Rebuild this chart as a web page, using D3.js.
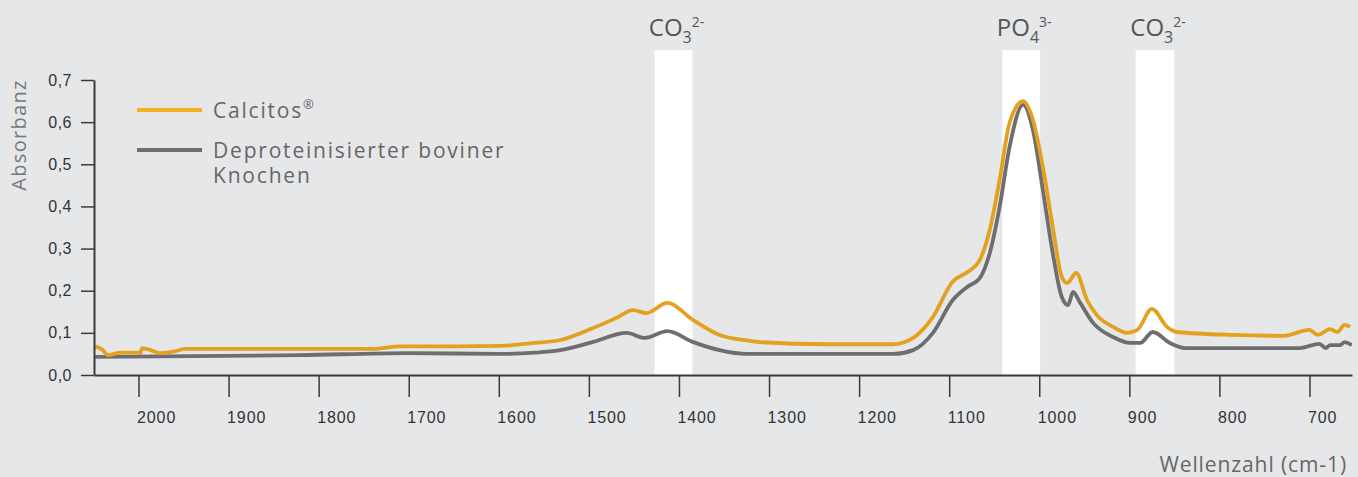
<!DOCTYPE html>
<html>
<head>
<meta charset="utf-8">
<script src="https://cdn.jsdelivr.net/npm/d3@7"></script>
<style>
  html, body { margin: 0; padding: 0; background: #e6e7e9; }
  svg { display: block; font-family: "Open Sans", "Noto Sans", sans-serif; }
</style>
</head>
<body>
<svg width="1358" height="477"></svg>
<script>
// Calcitos (wavenumber, absorbance)
const calcitos = [
  [2048, 0.068], [2040, 0.060], [2034, 0.047], [2020, 0.053], [2000, 0.053], [1998, 0.052],
  [1996, 0.064], [1985, 0.058], [1976, 0.052], [1960, 0.056], [1948, 0.062], [1900, 0.062],
  [1821, 0.062], [1740, 0.062], [1710, 0.068], [1650, 0.068], [1599, 0.069], [1560, 0.076],
  [1532, 0.083], [1496, 0.111], [1470, 0.135], [1451, 0.154], [1436, 0.147], [1413, 0.171],
  [1384, 0.130], [1355, 0.095], [1324, 0.082], [1310, 0.078], [1236, 0.073], [1162, 0.073],
  [1140, 0.088], [1118, 0.138], [1096, 0.222], [1080, 0.244], [1066, 0.273], [1055, 0.344],
  [1044, 0.463], [1033, 0.598], [1018, 0.650], [1007, 0.605], [996, 0.494], [985, 0.351],
  [975, 0.233], [969, 0.218], [959, 0.242], [947, 0.178], [936, 0.142], [918, 0.114],
  [903, 0.100], [891, 0.107], [875, 0.157], [858, 0.114], [847, 0.102], [785, 0.095],
  [729, 0.093], [700, 0.107], [691, 0.095], [677, 0.109], [669, 0.102], [661, 0.119], [655, 0.114]
];

// Deproteinisierter boviner Knochen
const bovine = [
  [2048, 0.043], [1821, 0.047], [1700, 0.052], [1599, 0.050], [1560, 0.053], [1532, 0.059],
  [1496, 0.078], [1458, 0.100], [1438, 0.088], [1413, 0.104], [1384, 0.078], [1355, 0.059],
  [1324, 0.050], [1162, 0.050], [1140, 0.059], [1118, 0.100], [1096, 0.178], [1080, 0.209],
  [1066, 0.230], [1055, 0.289], [1044, 0.399], [1033, 0.541], [1018, 0.641], [1007, 0.581],
  [996, 0.439], [985, 0.289], [975, 0.185], [968, 0.166], [962.5, 0.197], [955, 0.173],
  [940, 0.123], [918, 0.090], [899, 0.076], [888, 0.076], [874, 0.102], [855, 0.076],
  [838, 0.064], [785, 0.064], [711, 0.064], [689, 0.074], [682, 0.064], [677, 0.071],
  [666, 0.071], [661, 0.078], [653, 0.071]
];

// highlighted bands [from, to] in cm-1 with label parts
const bands = [
  {from: 1427, to: 1385, base: "CO", sub: "3", sup: "2-"},
  {from: 1041, to: 999, base: "PO", sub: "4", sup: "3-"},
  {from: 893, to: 850, base: "CO", sub: "3", sup: "2-"}
];

const xTicks = [2000, 1900, 1800, 1700, 1600, 1500, 1400, 1300, 1200, 1100, 1000, 900, 800, 700];
const yTicks = [0, 0.1, 0.2, 0.3, 0.4, 0.5, 0.6, 0.7];

const series = [
  {name: "Calcitos", data: calcitos, color: "#e4a11f", legendColor: "#f2b124"},
  {name: "Deproteinisierter boviner", name2: "Knochen", data: bovine, color: "#6e6e70", legendColor: "#6e6e70"}
];

const svg = d3.select("svg");

const x = d3.scaleLinear().domain([2049.4, 652.8]).range([94, 1352]);
const y = d3.scaleLinear().domain([0, 0.7]).range([375, 80]);

// bands
svg.append("g")
  .selectAll("rect")
  .data(bands)
  .join("rect")
    .attr("x", d => x(d.from))
    .attr("width", d => x(d.to) - x(d.from))
    .attr("y", 50)
    .attr("height", y(0) - 50)
    .attr("fill", "#ffffff");

const lbl = svg.append("g")
  .selectAll("text")
  .data(bands)
  .join("text")
    .attr("x", d => (x(d.from) + x(d.to)) / 2 + 3)
    .attr("y", 36)
    .attr("text-anchor", "middle")
    .attr("fill", "#555")
    .attr("font-size", 24);
lbl.append("tspan").text(d => d.base);
lbl.append("tspan").attr("dy", 7).attr("font-size", 16).text(d => d.sub);
lbl.append("tspan").attr("dy", -16).attr("font-size", 14).text(d => d.sup);

// curves
svg.append("defs").append("clipPath").attr("id", "plot")
  .append("rect").attr("x", 95).attr("y", 0).attr("width", 1257).attr("height", 375);

const line = d3.line()
  .x(d => x(d[0]))
  .y(d => y(d[1]))
  .curve(d3.curveMonotoneX);

svg.append("g")
  .attr("clip-path", "url(#plot)")
  .selectAll("path")
  .data(series.slice().reverse())
  .join("path")
    .attr("d", d => line(d.data))
    .attr("fill", "none")
    .attr("stroke", d => d.color)
    .attr("stroke-width", 3.8)
    .attr("stroke-linejoin", "round");

// axes
const yAxis = svg.append("g")
  .attr("transform", "translate(94,0)")
  .call(d3.axisLeft(y).tickValues(yTicks).tickSize(13).tickSizeOuter(0)
    .tickFormat(d => d3.format(".1f")(d).replace(".", ",")));
yAxis.select(".domain").attr("stroke", "#3a3a3a").attr("stroke-width", 2);
yAxis.selectAll(".tick line").attr("stroke", "#3a3a3a").attr("stroke-width", 1.5);
yAxis.selectAll(".tick text")
  .attr("x", -22)
  .attr("font-size", 16)
  .attr("letter-spacing", 0.5)
  .attr("fill", "#333")
  .attr("font-family", "inherit");

const xAxis = svg.append("g")
  .attr("transform", "translate(0,375)")
  .call(d3.axisBottom(x).tickValues(xTicks).tickSize(22).tickSizeOuter(0).tickFormat(d3.format("d")));
xAxis.select(".domain").attr("stroke", "#3a3a3a").attr("stroke-width", 2);
xAxis.selectAll(".tick line").attr("stroke", "#3a3a3a").attr("stroke-width", 1.5);
xAxis.selectAll(".tick text")
  .attr("text-anchor", "start")
  .attr("x", -2)
  .attr("y", 48)
  .attr("dy", null)
  .attr("font-size", 16)
  .attr("letter-spacing", 0.9)
  .attr("fill", "#333")
  .attr("font-family", "inherit");

svg.append("text")
  .attr("x", 1347)
  .attr("y", 472)
  .attr("text-anchor", "end")
  .attr("font-size", 21)
  .attr("letter-spacing", 0.9)
  .attr("fill", "#666")
  .text("Wellenzahl (cm-1)");

svg.append("text")
  .attr("transform", "translate(26,135) rotate(-90)")
  .attr("text-anchor", "middle")
  .attr("font-size", 20)
  .attr("letter-spacing", 1.3)
  .attr("fill", "#777")
  .text("Absorbanz");

// legend
const leg = svg.append("g")
  .selectAll("g")
  .data(series)
  .join("g")
    .attr("transform", (d, i) => `translate(137,${110 + i * 40})`);
leg.append("line")
  .attr("x1", 0).attr("x2", 65)
  .attr("stroke", d => d.legendColor)
  .attr("stroke-width", 4);
const legText = leg.append("text")
  .attr("x", 76)
  .attr("y", 8)
  .attr("font-size", 21)
  .attr("letter-spacing", 1.8)
  .attr("fill", "#666");
legText.append("tspan").text(d => d.name);
legText.filter(d => !d.name2).append("tspan")
  .attr("dy", -9).attr("font-size", 13).text("®");
leg.filter(d => d.name2).append("text")
  .attr("x", 76)
  .attr("y", 33)
  .attr("font-size", 21)
  .attr("letter-spacing", 1.8)
  .attr("fill", "#666")
  .text(d => d.name2);
</script>
</body>
</html>
